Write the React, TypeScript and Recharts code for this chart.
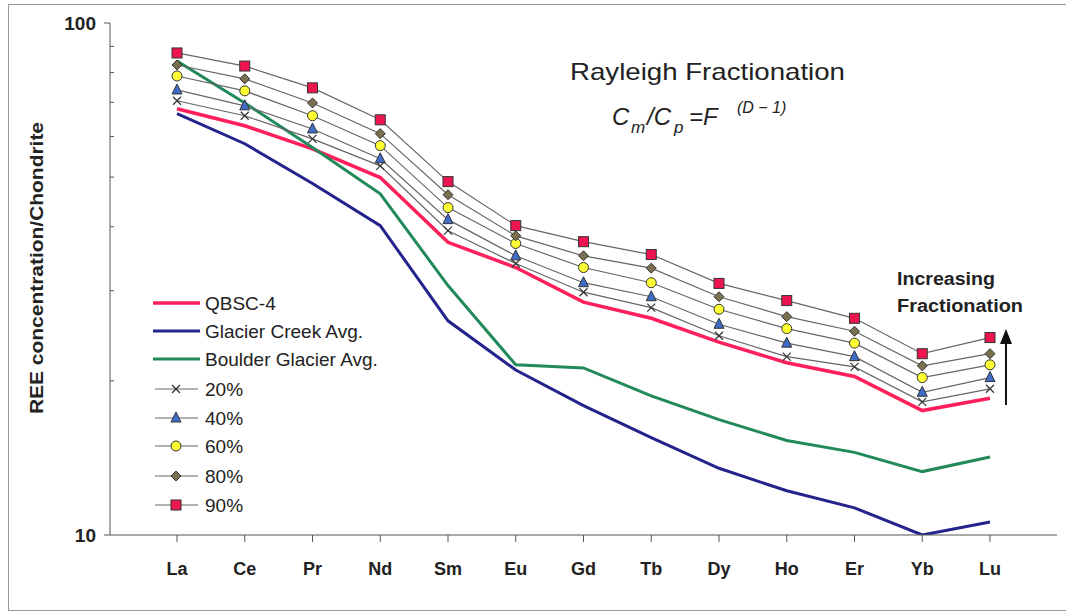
import { LineChart, Line, XAxis, YAxis } from 'recharts'

const elements = ['La', 'Ce', 'Pr', 'Nd', 'Sm', 'Eu', 'Gd', 'Tb', 'Dy', 'Ho', 'Er', 'Yb', 'Lu']

const qbsc4 = [68.0, 63.0, 56.8, 49.9, 37.3, 33.3, 28.5, 26.5, 23.8, 21.7, 20.4, 17.5, 18.5]
const glacierCreek = [66.5, 58.1, 48.6, 40.2, 26.2, 21.0, 17.9, 15.5, 13.5, 12.2, 11.3, 10.0, 10.6]
const boulderGlacier = [84.3, 69.8, 57.1, 46.4, 30.7, 21.5, 21.2, 18.7, 16.8, 15.3, 14.5, 13.3, 14.2]
const frac20 = [70.5, 65.9, 59.4, 52.6, 39.3, 33.9, 29.8, 27.8, 24.5, 22.3, 21.3, 18.2, 19.3]
const frac40 = [74.0, 68.9, 62.1, 54.3, 41.3, 35.1, 31.1, 29.2, 25.8, 23.7, 22.3, 19.0, 20.3]
const frac60 = [78.8, 73.7, 65.9, 57.6, 43.6, 37.1, 33.3, 31.1, 27.6, 25.3, 23.7, 20.3, 21.5]
const frac80 = [82.8, 77.8, 69.8, 60.8, 46.2, 38.4, 35.1, 33.2, 29.2, 26.7, 25.0, 21.4, 22.6]
const frac90 = [87.4, 82.4, 74.7, 64.7, 49.0, 40.2, 37.4, 35.3, 31.0, 28.7, 26.5, 22.6, 24.3]

const yTicks = [10, 20, 30, 40, 50, 60, 70, 80, 90, 100]
const yLabels = [10, 100]

const data = elements.map((name, i) => ({
  name,
  qbsc4: qbsc4[i],
  glacierCreek: glacierCreek[i],
  boulderGlacier: boulderGlacier[i],
  frac20: frac20[i],
  frac40: frac40[i],
  frac60: frac60[i],
  frac80: frac80[i],
  frac90: frac90[i],
}))

const FONT = '"Liberation Sans", Arial, sans-serif'
const W = 1066
const H = 613
const PLOT_LEFT = 110
const AXIS = '#555'

type Kind = 'line' | 'x' | 'tri' | 'circle' | 'diamond' | 'square'

const solidSeries = [
  { key: 'qbsc4', label: 'QBSC-4', color: '#ff1f5a', width: 3.5 },
  { key: 'glacierCreek', label: 'Glacier Creek Avg.', color: '#23238c', width: 3 },
  { key: 'boulderGlacier', label: 'Boulder Glacier Avg.', color: '#22895a', width: 3 },
]

const markerSeries: { key: string; label: string; kind: Kind }[] = [
  { key: 'frac20', label: '20%', kind: 'x' },
  { key: 'frac40', label: '40%', kind: 'tri' },
  { key: 'frac60', label: '60%', kind: 'circle' },
  { key: 'frac80', label: '80%', kind: 'diamond' },
  { key: 'frac90', label: '90%', kind: 'square' },
]

function Marker({ kind, cx, cy }: { kind: Kind; cx: number; cy: number }) {
  if (kind === 'x') {
    return (
      <g stroke="#333" strokeWidth={1.2}>
        <line x1={cx - 4} y1={cy - 4} x2={cx + 4} y2={cy + 4} />
        <line x1={cx - 4} y1={cy + 4} x2={cx + 4} y2={cy - 4} />
      </g>
    )
  }
  if (kind === 'tri') {
    return (
      <polygon
        points={`${cx},${cy - 6} ${cx - 5},${cy + 4} ${cx + 5},${cy + 4}`}
        fill="#3f6cc8"
        stroke="#333"
        strokeWidth={1}
      />
    )
  }
  if (kind === 'circle') {
    return <circle cx={cx} cy={cy} r={5} fill="#ffff33" stroke="#333" strokeWidth={1} />
  }
  if (kind === 'diamond') {
    return (
      <polygon
        points={`${cx},${cy - 5} ${cx + 5},${cy} ${cx},${cy + 5} ${cx - 5},${cy}`}
        fill="#7a7050"
        stroke="#333"
        strokeWidth={1}
      />
    )
  }
  if (kind === 'square') {
    return <rect x={cx - 5} y={cy - 5} width={10} height={10} fill="#ee1450" stroke="#333" strokeWidth={1} />
  }
  return null
}

const makeDot = (kind: Kind) => (props: any) => {
  const { cx, cy, index } = props
  if (cx == null || cy == null) return <g key={`d-${kind}-${index}`} />
  return (
    <g key={`d-${kind}-${index}`}>
      <Marker kind={kind} cx={cx} cy={cy} />
    </g>
  )
}

const YTick = (props: any) => {
  const { y, payload } = props
  const v = payload.value
  const major = yLabels.includes(v)
  return (
    <g>
      <line
        x1={major ? PLOT_LEFT - 6 : PLOT_LEFT}
        x2={major ? PLOT_LEFT : PLOT_LEFT + 4}
        y1={y}
        y2={y}
        stroke={AXIS}
      />
      {major && (
        <text
          x={PLOT_LEFT - 14}
          y={y}
          dy="0.36em"
          textAnchor="end"
          fontFamily={FONT}
          fontWeight="bold"
          fontSize={19}
          fill="#222"
        >
          {v}
        </text>
      )}
    </g>
  )
}

const legendRows = [303, 331, 359, 389, 418, 446, 476, 505]

export default function App() {
  return (
    <div>
      <div
        style={{
          position: 'absolute',
          left: 8,
          top: 4,
          width: 1057,
          height: 605,
          borderTop: '1px solid #999',
          borderLeft: '1px solid #999',
          borderBottom: '1px solid #999',
        }}
      />
      <div style={{ position: 'absolute', left: 0, top: 0, width: W, height: H }}>
        <LineChart width={W} height={H} data={data} margin={{ top: 23, right: 9, left: 0, bottom: 0 }}>
          <XAxis
            dataKey="name"
            height={78}
            padding={{ left: 67, right: 67 }}
            axisLine={{ stroke: AXIS }}
            tickLine={{ stroke: AXIS }}
            tickSize={7}
            tickMargin={20}
            interval={0}
            tick={{ fontFamily: FONT, fontWeight: 'bold', fontSize: 18, fill: '#222' }}
          />
          <XAxis
            xAxisId="top"
            orientation="top"
            dataKey="name"
            height={0}
            padding={{ left: 67, right: 67 }}
            tick={false}
            tickLine={false}
            axisLine={{ stroke: '#777' }}
          />
          <YAxis
            type="number"
            scale="log"
            domain={[10, 100]}
            allowDataOverflow
            ticks={yTicks}
            interval={0}
            width={PLOT_LEFT}
            axisLine={{ stroke: AXIS }}
            tickLine={false}
            tick={<YTick />}
          />
          <YAxis
            yAxisId="right"
            orientation="right"
            type="number"
            domain={[0, 1]}
            width={0}
            tick={false}
            tickLine={false}
            axisLine={{ stroke: '#777' }}
          />
          {solidSeries.map((s) => (
            <Line
              key={s.key}
              dataKey={s.key}
              stroke={s.color}
              strokeWidth={s.width}
              dot={false}
              activeDot={false}
              isAnimationActive={false}
            />
          ))}
          {markerSeries.map((s) => (
            <Line
              key={s.key}
              dataKey={s.key}
              stroke="#666"
              strokeWidth={1.2}
              dot={makeDot(s.kind)}
              activeDot={false}
              isAnimationActive={false}
            />
          ))}
        </LineChart>
      </div>
      <svg
        width={W}
        height={H}
        style={{ position: 'absolute', left: 0, top: 0, pointerEvents: 'none' }}
        fontFamily={FONT}
      >
        <text
          x={43}
          y={268}
          transform="rotate(-90, 43, 268)"
          textAnchor="middle"
          fontWeight="bold"
          fontSize={18}
          fill="#222"
          textLength={292}
          lengthAdjust="spacingAndGlyphs"
        >
          REE concentration/Chondrite
        </text>

        <text x={570} y={80} fontSize={24} fill="#222" textLength={275} lengthAdjust="spacingAndGlyphs">
          Rayleigh Fractionation
        </text>
        <text fontSize={24} fontStyle="italic" fill="#222">
          <tspan x={612} y={125}>C</tspan>
          <tspan x={631} y={133} fontSize={17}>m</tspan>
          <tspan x={647} y={125}>/C</tspan>
          <tspan x={674} y={133} fontSize={17}>p</tspan>
          <tspan x={689} y={125}>=F</tspan>
          <tspan x={737} y={113} fontSize={16}>(D − 1)</tspan>
        </text>

        <text x={897} y={285} fontSize={18} fontWeight="bold" fill="#222" textLength={98} lengthAdjust="spacingAndGlyphs">
          Increasing
        </text>
        <text x={897} y={312} fontSize={18} fontWeight="bold" fill="#222" textLength={126} lengthAdjust="spacingAndGlyphs">
          Fractionation
        </text>
        <line x1={1006} y1={405} x2={1006} y2={342} stroke="#111" strokeWidth={2} />
        <polygon points="1006,329 1000,344 1012,344" fill="#111" />

        {solidSeries.map((s, i) => (
          <g key={s.key}>
            <line x1={153} x2={200} y1={legendRows[i]} y2={legendRows[i]} stroke={s.color} strokeWidth={s.width} />
            <text x={205} y={legendRows[i]} dy="0.36em" fontSize={19} fill="#222">
              {s.label}
            </text>
          </g>
        ))}
        {markerSeries.map((s, j) => {
          const y = legendRows[j + solidSeries.length]
          return (
            <g key={s.key}>
              <line x1={155} x2={198} y1={y} y2={y} stroke="#666" strokeWidth={1.2} />
              <Marker kind={s.kind} cx={176} cy={y} />
              <text x={205} y={y} dy="0.36em" fontSize={19} fill="#222">
                {s.label}
              </text>
            </g>
          )
        })}
      </svg>
    </div>
  )
}
